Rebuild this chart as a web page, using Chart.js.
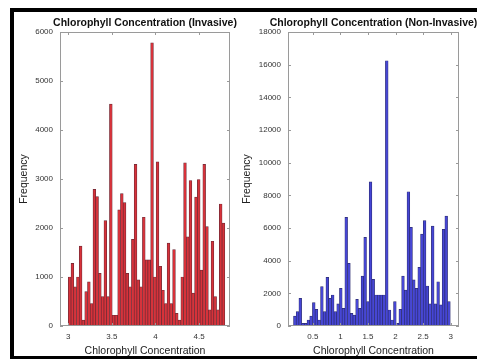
<!DOCTYPE html>
<html>
<head>
<meta charset="utf-8">
<script src="https://cdn.jsdelivr.net/npm/chart.js@4/dist/chart.umd.min.js"></script>
<style>
  html, body { margin: 0; padding: 0; background: #fff; }
  body { width: 477px; height: 359px; position: relative; overflow: hidden; }
  #frame {
    position: absolute; left: 10px; top: 8px; width: 467px; height: 351px;
    box-sizing: border-box;
    border-top: 4px solid #000; border-left: 4px solid #000; border-bottom: 3px solid #000;
  }
  canvas { position: absolute; top: 12px; }
  #invChart { left: 14px; }
  #nonInvChart { left: 240px; }
</style>
</head>
<body>
<div id="frame"></div>
<canvas id="invChart" width="226" height="346"></canvas>
<canvas id="nonInvChart" width="237" height="346"></canvas>
<script>
// Invasive histogram (red)
const invBinStart = 3.0;
const invBinWidth = 0.0315;
const invCounts = [1000, 1280, 800, 1000, 1630, 120, 700, 900, 460, 2790,
                   2640, 1075, 600, 2150, 600, 4530, 220, 220, 2370, 2700,
                   2520, 1075, 800, 1770, 3300, 940, 800, 2220, 1350, 1350,
                   5780, 1000, 3350, 1220, 730, 460, 1690, 460, 1560, 260,
                   120, 1000, 3330, 1820, 2970, 670, 2630, 2990, 1140, 3300,
                   2030, 330, 1730, 600, 330, 2490, 2100];
const invXTicks = [3, 3.5, 4, 4.5];

// Non-invasive histogram (blue)
const nonBinStart = 0.15;
const nonBinWidth = 0.049;
const nonCounts = [610, 880, 1690, 160, 160, 370, 600, 1430, 1020, 370,
                   2410, 880, 2980, 1690, 1900, 880, 1350, 2310, 1080, 6650,
                   3840, 780, 670, 1630, 1080, 3060, 5430, 1490, 8820, 2860,
                   1900, 1900, 1900, 1900, 16240, 980, 370, 1490, 160, 1020,
                   3060, 2200, 8220, 6040, 2820, 2310, 3590, 5630, 6450, 2450,
                   1350, 6120, 1350, 2710, 1290, 5920, 6730, 1490];
const nonXTicks = [0.5, 1, 1.5, 2, 2.5, 3];

const FONT = '"Liberation Sans", Arial, Helvetica, sans-serif';
Chart.defaults.font.family = FONT;

// axes box, inward ticks and title (matlab style)
const matlabBox = {
  id: 'matlabBox',
  afterDatasetsDraw(chart, args, opts) {
    const { ctx, chartArea: a, scales: { x, y } } = chart;
    ctx.save();
    ctx.strokeStyle = '#9a9a9a';
    ctx.lineWidth = 1;
    ctx.strokeRect(a.left + 0.5, a.top + 0.5, a.right - a.left - 1, a.bottom - a.top - 1);
    ctx.beginPath();
    y.ticks.forEach(t => {
      const py = Math.round(y.getPixelForValue(t.value)) + 0.5;
      ctx.moveTo(a.left, py); ctx.lineTo(a.left + 3, py);
      ctx.moveTo(a.right, py); ctx.lineTo(a.right - 3, py);
    });
    x.ticks.forEach(t => {
      const px = Math.round(x.getPixelForValue(t.value)) + 0.5;
      ctx.moveTo(px, a.bottom); ctx.lineTo(px, a.bottom - 3);
      ctx.moveTo(px, a.top); ctx.lineTo(px, a.top + 3);
    });
    ctx.stroke();
    ctx.fillStyle = '#111';
    ctx.font = 'bold 10.5px ' + FONT;
    ctx.textAlign = 'center';
    ctx.textBaseline = 'middle';
    ctx.fillText(opts.text, (a.left + a.right) / 2, 11);
    ctx.restore();
  }
};

function makeHist(id, cfg) {
  const centers = cfg.counts.map((_, i) => cfg.binStart + (i + 0.5) * cfg.binWidth);
  return new Chart(document.getElementById(id), {
    type: 'bar',
    data: {
      datasets: [{
        data: cfg.counts.map((c, i) => ({ x: centers[i], y: c })),
        backgroundColor: cfg.fill,
        borderColor: cfg.edge,
        borderWidth: 0.7,
        barPercentage: 1,
        categoryPercentage: 1
      }]
    },
    options: {
      responsive: false,
      animation: false,
      events: [],
      devicePixelRatio: 1,
      layout: { padding: { top: 20, right: cfg.padRight, bottom: 0, left: 0 } },
      plugins: {
        legend: { display: false },
        tooltip: { enabled: false },
        matlabBox: { text: cfg.title }
      },
      scales: {
        x: {
          type: 'linear',
          offset: false,
          min: cfg.xMin,
          max: cfg.xMax,
          grid: { display: false, drawTicks: false },
          border: { display: false },
          afterBuildTicks: s => { s.ticks = cfg.xTicks.map(v => ({ value: v })); },
          afterFit: s => { s.height = 32; },
          ticks: { color: '#333', font: { size: 8 }, padding: 6, maxRotation: 0, callback: v => String(v) },
          title: { display: true, text: 'Chlorophyll Concentration', color: '#222', font: { size: 10.5 }, padding: { top: 0, bottom: 1 } }
        },
        y: {
          min: 0,
          max: cfg.yMax,
          grid: { display: false, drawTicks: false },
          border: { display: false },
          afterFit: s => { s.width = cfg.chartLeft; },
          ticks: { stepSize: cfg.yStep, color: '#333', font: { size: 8 }, padding: 7, callback: v => String(v) },
          title: { display: true, text: 'Frequency', color: '#222', font: { size: 10.5 }, padding: { top: cfg.yTitlePad, bottom: 0 } }
        }
      }
    },
    plugins: [matlabBox]
  });
}

makeHist('invChart', {
  counts: invCounts, binStart: invBinStart, binWidth: invBinWidth,
  xMin: 2.905, xMax: 4.855, xTicks: invXTicks, yMax: 6000, yStep: 1000,
  title: 'Chlorophyll Concentration (Invasive)',
  fill: '#d8323a', edge: '#6b2a35',
  chartLeft: 46, padRight: 10, yTitlePad: 3.5
});

makeHist('nonInvChart', {
  counts: nonCounts, binStart: nonBinStart, binWidth: nonBinWidth,
  xMin: 0.05, xMax: 3.15, xTicks: nonXTicks, yMax: 18000, yStep: 2000,
  title: 'Chlorophyll Concentration (Non-Invasive)',
  fill: '#4646d6', edge: '#2c2c70',
  chartLeft: 48, padRight: 18, yTitlePad: 0.5
});
</script>
</body>
</html>
